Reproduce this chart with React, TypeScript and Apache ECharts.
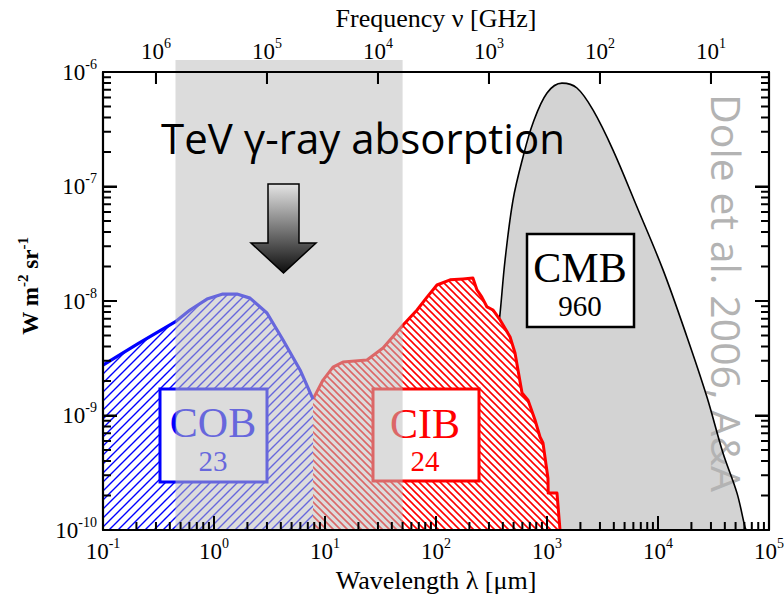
import React, { useEffect, useRef } from 'react';
import * as echarts from 'echarts';

// ---------- data ----------
// Cosmic Optical Background: wavelength [μm], νI_ν [W m^-2 sr^-1]
const cobWavelength = [0.1, 0.207, 0.446, 0.608, 0.865, 1.2, 1.61, 2.11, 3.0, 4.19, 5.96, 7.8];
const cobIntensity = [2.76e-9, 4.25e-9, 6.56e-9, 8.34e-9, 1.04e-8, 1.15e-8, 1.15e-8, 1.06e-8, 7.86e-9, 4.56e-9, 2.5e-9, 1.39e-9];

// Cosmic Infrared Background
const cibWavelength = [7.8, 9.6, 11.8, 14.5, 23.9, 33.3, 50.5, 67.5, 83, 102, 134, 175, 215, 234, 259, 288, 327, 378, 465, 515, 596, 675, 780, 865, 920, 1020, 1025, 1230, 1310];
const cibIntensity = [1.39e-9, 2.04e-9, 2.65e-9, 2.93e-9, 3.05e-9, 3.89e-9, 6.17e-9, 8.34e-9, 1.08e-8, 1.38e-8, 1.53e-8, 1.56e-8, 1.59e-8, 1.25e-8, 1.08e-8, 8.87e-9, 8.34e-9, 6.83e-9, 4.85e-9, 3.52e-9, 1.57e-9, 1.36e-9, 9.14e-10, 6.49e-10, 5.75e-10, 2.84e-10, 2.1e-10, 2.1e-10, 1e-10];

// Cosmic Microwave Background
const cmbWavelength = [262, 300, 340, 378, 419, 494, 608, 748, 1000, 1365, 1862, 2595, 3933, 6470, 11100, 18250, 27600, 38500, 51500, 60800, 62500];
const cmbIntensity = [1e-10, 9e-10, 3.0e-9, 7.85e-9, 2.28e-8, 7.62e-8, 1.81e-7, 3.59e-7, 6.56e-7, 8.0e-7, 7.25e-7, 4.66e-7, 2.08e-7, 6.62e-8, 1.87e-8, 4.85e-9, 1.45e-9, 4.7e-10, 2.1e-10, 1.06e-10, 1e-10];

// TeV γ-ray absorption window [μm]
const bandRange = [0.45, 50];

// axes
const xRange = [0.1, 1e5];
const yRange = [1e-10, 1e-6];
const freqRange = [3, 3e6]; // GHz, ν = c/λ
const minorFactors = [2, 3, 4, 5, 6, 7, 8, 9];
const xDecades = [-1, 0, 1, 2, 3, 4];
const xMajorExp = [-1, 0, 1, 2, 3, 4, 5];
const yDecades = [-10, -9, -8, -7];
const yMajorExp = [-10, -9, -8, -7, -6];
const freqMajorExp = [1, 2, 3, 4, 5, 6];

const annotations = [
  { label: 'COB', value: '23', color: '#0000ff' },
  { label: 'CIB', value: '24', color: '#ff0000' },
  { label: 'CMB', value: '960', color: '#000000' },
];

// ---------- helpers ----------
const SERIF = '"Liberation Serif", "Times New Roman", serif';
const SANS = '"Open Sans", "Noto Sans", sans-serif';

const pow10Label = (v: number) => {
  const e = Math.log10(v);
  const r = Math.round(e);
  if (Math.abs(e - r) > 1e-6) return '';
  return `{b|10}{s|${r}}`;
};

const tickRich = {
  b: { fontFamily: SERIF, fontSize: 23, color: '#000', lineHeight: 30 },
  s: { fontFamily: SERIF, fontSize: 14, color: '#000', verticalAlign: 'top', lineHeight: 14 },
};

function hatch(color: string, size: number, width: number, up: boolean) {
  const s = size;
  const d = up
    ? `M0 ${s} L${s} 0 M-2 2 L2 -2 M${s - 2} ${s + 2} L${s + 2} ${s - 2}`
    : `M0 0 L${s} ${s} M-2 ${s - 2} L2 ${s + 2} M${s - 2} -2 L${s + 2} 2`;
  const svg = `<svg xmlns='http://www.w3.org/2000/svg' width='${s}' height='${s}'><rect width='${s}' height='${s}' fill='white'/><path d='${d}' stroke='${color}' stroke-width='${width}' fill='none'/></svg>`;
  return {
    image: 'data:image/svg+xml;charset=utf-8,' + encodeURIComponent(svg),
    repeat: 'repeat',
    imageWidth: s,
    imageHeight: s,
  };
}

const pairs = (xs: number[], ys: number[]) => xs.map((x, i) => [x, ys[i]]);
const p10 = (e: number) => Math.pow(10, e);

export default function App() {
  const ref = useRef<HTMLDivElement>(null);

  useEffect(() => {
    if (!ref.current) return;
    const chart = echarts.init(ref.current, undefined, { renderer: 'svg' });

    const xMinorVals = xDecades.flatMap((e) => minorFactors.map((k) => k * p10(e)));
    const yMinorVals = yDecades.flatMap((e) => minorFactors.map((k) => k * p10(e)));
    const xMajorVals = xMajorExp.map(p10);
    const yMajorVals = yMajorExp.map(p10);
    const fMajorVals = freqMajorExp.map(p10);

    // tick lengths expressed along the log axes (decades per pixel: x 1/111, y 1/114.5)
    const yLen = (px: number) => Math.pow(10, px / 114.5);
    const xLen = (px: number) => Math.pow(10, px / 111);

    // tick segments as broken polylines (null breaks the line)
    const seg = (a: number[], b: number[]) => [a, b, [a[0], null]];
    const bottomTicks = [
      ...xMinorVals.flatMap((v) => seg([v, yRange[0]], [v, yRange[0] * yLen(8)])),
      ...xMajorVals.flatMap((v) => seg([v, yRange[0]], [v, yRange[0] * yLen(14)])),
    ];
    const sideTicks = [
      ...yMinorVals.flatMap((v) => seg([xRange[0], v], [xRange[0] * xLen(8), v])),
      ...yMajorVals.flatMap((v) => seg([xRange[0], v], [xRange[0] * xLen(14), v])),
      ...yMinorVals.flatMap((v) => seg([xRange[1] / xLen(8), v], [xRange[1], v])),
      ...yMajorVals.flatMap((v) => seg([xRange[1] / xLen(14), v], [xRange[1], v])),
    ];
    const topTicks = fMajorVals.flatMap((v) => seg([v, yRange[1]], [v, yRange[1] / yLen(12)]));

    const axisLine = { show: true, onZero: false, lineStyle: { color: '#000', width: 2.2 } };
    const tick = (len: number) => ({ show: true, inside: true, length: len, lineStyle: { color: '#000', width: 2 } });

    const cmb = pairs(cmbWavelength, cmbIntensity);

    const tickLine = (name: string, data: any[], xAxisIndex: number) => ({
      name, type: 'line', data, xAxisIndex, yAxisIndex: 0, z: 8, silent: true,
      showSymbol: false, connectNulls: false, clip: false,
      lineStyle: { color: '#000', width: 2, cap: 'butt' },
    });

    const boxStyle = (c: string, w: number) => ({ fill: '#fff', stroke: c, lineWidth: w });
    const txt = (x: number, y: number, text: string, size: number, color: string, z: number) => ({
      type: 'text', x, y, z, silent: true,
      style: { text, fill: color, fontFamily: SERIF, fontSize: size, align: 'center', verticalAlign: 'middle', textAlign: 'center', textVerticalAlign: 'middle' },
    });

    const option: any = {
      animation: false,
      backgroundColor: '#ffffff',
      grid: { left: 103, right: 15, top: 72, bottom: 66, containLabel: false, outerBoundsMode: 'none' },
      xAxis: [
        {
          type: 'log', logBase: 10, min: xRange[0], max: xRange[1], position: 'bottom', z: 9,
          name: 'Wavelength λ [μm]', nameLocation: 'middle', nameGap: 36,
          nameTextStyle: { fontFamily: SERIF, fontSize: 26, color: '#000' },
          axisLine, axisTick: tick(14),
          axisLabel: { formatter: pow10Label, rich: tickRich, margin: 6, showMinLabel: true, showMaxLabel: true },
          splitLine: { show: false }, minorTick: { show: false }, minorSplitLine: { show: false },
        },
        {
          type: 'log', logBase: 10, min: freqRange[0], max: freqRange[1], inverse: true, position: 'top', z: 9,
          name: 'Frequency ν [GHz]', nameLocation: 'middle', nameGap: 40,
          nameTextStyle: { fontFamily: SERIF, fontSize: 26, color: '#000' },
          axisLine, axisTick: tick(12),
          axisLabel: { formatter: pow10Label, rich: tickRich, margin: 6 },
          splitLine: { show: false },
        },
      ],
      yAxis: [
        {
          type: 'log', logBase: 10, min: yRange[0], max: yRange[1], position: 'left', z: 9,
          name: '{n|W m}{s|-2}{n| sr}{s|-1}', nameLocation: 'middle', nameGap: 58, nameRotate: 90,
          nameTextStyle: {
            padding: [0, 0, 0, 30],
            rich: {
              n: { fontFamily: SERIF, fontSize: 23, fontWeight: 'bold', color: '#000', lineHeight: 30 },
              s: { fontFamily: SERIF, fontSize: 15, fontWeight: 'bold', color: '#000', verticalAlign: 'top', lineHeight: 15 },
            },
          },
          axisLine, axisTick: tick(14),
          axisLabel: { formatter: pow10Label, rich: tickRich, margin: 6, showMinLabel: true, showMaxLabel: true },
          splitLine: { show: false },
        },
        {
          type: 'log', logBase: 10, min: yRange[0], max: yRange[1], position: 'right', z: 9,
          axisLine, axisTick: tick(14), axisLabel: { show: false }, splitLine: { show: false },
        },
      ],
      series: [
        {
          name: 'CMB fill', type: 'line', data: cmb, xAxisIndex: 0, yAxisIndex: 0, z: 1,
          showSymbol: false, smooth: 0.35, silent: true,
          lineStyle: { width: 0, opacity: 0 },
          areaStyle: { color: '#d3d3d3', opacity: 1, origin: 'start' },
        },
        {
          name: 'CMB', type: 'line', data: cmb, xAxisIndex: 0, yAxisIndex: 0, z: 3,
          showSymbol: false, smooth: 0.35, silent: true,
          lineStyle: { color: '#000', width: 1.6 },
        },
        {
          name: 'CIB', type: 'line', data: pairs(cibWavelength, cibIntensity), xAxisIndex: 0, yAxisIndex: 0, z: 4,
          showSymbol: false, silent: true,
          lineStyle: { color: '#ff0000', width: 3, join: 'round' },
          areaStyle: { color: hatch('#ff0000', 7, 1.6, false), opacity: 1, origin: 'start' },
        },
        {
          name: 'COB', type: 'line', data: pairs(cobWavelength, cobIntensity), xAxisIndex: 0, yAxisIndex: 0, z: 4,
          showSymbol: false, silent: true,
          lineStyle: { color: '#0000ff', width: 3.2, join: 'round' },
          areaStyle: { color: hatch('#0000ff', 9, 1.4, true), opacity: 1, origin: 'start' },
        },
        {
          name: 'TeV band', type: 'custom', xAxisIndex: 0, yAxisIndex: 0, z: 6, clip: false, silent: true,
          data: [bandRange],
          renderItem: (params: any, api: any) => {
            const p0 = api.coord([api.value(0), yRange[1]]);
            const p1 = api.coord([api.value(1), yRange[0]]);
            return {
              type: 'rect',
              shape: { x: p0[0], y: p0[1] - 12, width: p1[0] - p0[0], height: p1[1] - p0[1] + 12 },
              style: { fill: 'rgb(190,190,190)', opacity: 0.54 },
            };
          },
        },
        tickLine('bottom ticks', bottomTicks, 0),
        tickLine('side ticks', sideTicks, 0),
        tickLine('top ticks', topTicks, 1),
      ],
      graphic: [
        // attribution, beneath the CMB outline
        {
          type: 'text', x: 727, y: 293, rotation: -Math.PI / 2, z: 2, silent: true,
          style: { text: 'Dole et al. 2006, A&A', fill: '#b3b3b3', fontFamily: SANS, fontSize: 41, align: 'center', verticalAlign: 'middle', textAlign: 'center', textVerticalAlign: 'middle' },
        },
        // COB box
        { type: 'rect', z: 5, silent: true, shape: { x: 160, y: 389, width: 107, height: 93 }, style: boxStyle(annotations[0].color, 3) },
        txt(213, 423, annotations[0].label, 42, annotations[0].color, 5),
        txt(213, 461, annotations[0].value, 29, annotations[0].color, 5),
        // CIB box
        { type: 'rect', z: 5, silent: true, shape: { x: 373, y: 389, width: 106, height: 92 }, style: boxStyle(annotations[1].color, 3) },
        txt(425, 424, annotations[1].label, 42, annotations[1].color, 5),
        txt(425, 461, annotations[1].value, 29, annotations[1].color, 5),
        // CMB box
        { type: 'rect', z: 5, silent: true, shape: { x: 527, y: 234, width: 107, height: 93 }, style: boxStyle(annotations[2].color, 2.5) },
        txt(580, 268, annotations[2].label, 42, annotations[2].color, 5),
        txt(580, 306, annotations[2].value, 29, annotations[2].color, 5),
        // TeV text
        {
          type: 'text', x: 363, y: 137, z: 7, silent: true,
          style: { text: 'TeV γ-ray absorption', fill: '#000', fontFamily: SANS, fontSize: 42, align: 'center', verticalAlign: 'middle', textAlign: 'center', textVerticalAlign: 'middle' },
        },
        // arrow
        {
          type: 'polygon', z: 7, silent: true,
          shape: { points: [[268, 184], [299, 184], [299, 243], [316, 243], [283.5, 273], [251, 243], [268, 243]] },
          style: {
            fill: new echarts.graphic.LinearGradient(0, 0, 0, 1, [
              { offset: 0, color: '#e4e4e4' },
              { offset: 1, color: '#0e0e0e' },
            ]),
            stroke: '#000', lineWidth: 1.5, lineJoin: 'miter',
          },
        },
      ],
    };

    chart.setOption(option);
    return () => chart.dispose();
  }, []);

  return (
    <div
      ref={ref}
      style={{ position: 'fixed', left: 0, top: 0, width: 784, height: 596, background: '#fff' }}
    />
  );
}
